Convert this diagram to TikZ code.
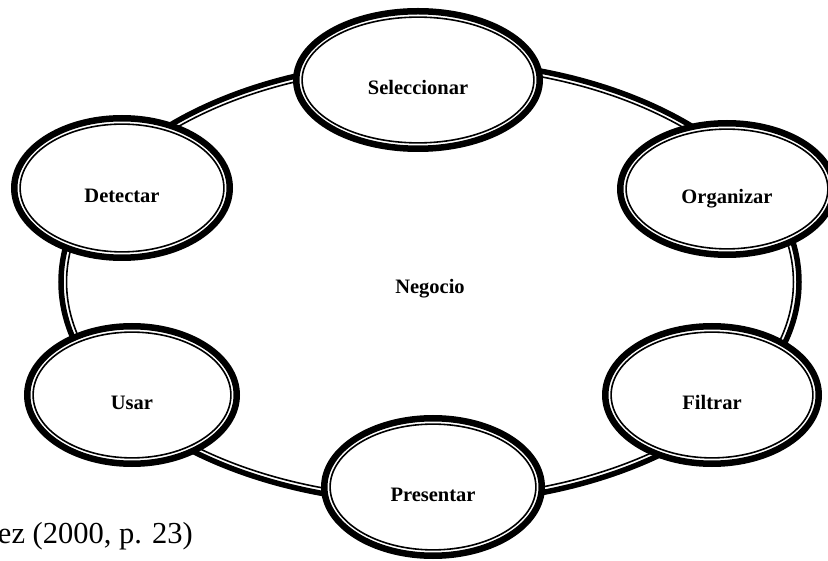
\documentclass[tikz,border=0pt]{standalone}
\usepackage{fontspec}
\setmainfont{Liberation Serif}
\usetikzlibrary{shapes.geometric}
\begin{document}
\begin{tikzpicture}[x=1pt,y=-1pt,
  labelfont/.style={font=\fontsize{20.5}{24}\selectfont\bfseries},
  hub/.style={ellipse, draw, line width=5.5pt, inner sep=0pt,
    minimum width=738pt, minimum height=442pt, labelfont,
    text height=23.6pt, text depth=0pt},
  stage/.style={ellipse, draw, fill=white, line width=6.5pt, inner sep=0pt,
    labelfont, text height=29.6pt, text depth=0pt},
  fineline/.style={draw, line width=1.6pt},
  cite/.style={font=\fontsize{30.5}{36}\selectfont, inner sep=0pt, anchor=base east}
]
\useasboundingbox (0,0) rectangle (828,561);
\clip (0,0) rectangle (828,561);

% central business cycle
\node[hub] (negocio) at (430,282) {Negocio};
\draw[fineline] (negocio.center) ellipse [x radius=363.45pt, y radius=215.45pt];

% stages around the cycle: name / centre / outer radii / label
\foreach \name/\cx/\cy/\rx/\ry/\txt in {
  sel/418/80/125/72/Seleccionar,
  org/727/189/110/69/Organizar,
  fil/712/395/110/72/Filtrar,
  pre/433/487/112/72/Presentar,
  usa/132/395/108/72/Usar,
  det/122/188/111/73/Detectar}{
  \pgfmathsetmacro\dw{2*(\rx-3.25)}
  \pgfmathsetmacro\dh{2*(\ry-3.25)}
  \pgfmathsetmacro\ix{\rx-9.1}
  \pgfmathsetmacro\iy{\ry-9.1}
  \node[stage, minimum width=\dw pt, minimum height=\dh pt] (\name) at (\cx,\cy) {\txt};
  \draw[fineline] (\name.center) ellipse [x radius=\ix pt, y radius=\iy pt];
}

\node[cite] (fuente) at (193,543) {ez (2000, p. 23)};
\end{tikzpicture}
\end{document}
